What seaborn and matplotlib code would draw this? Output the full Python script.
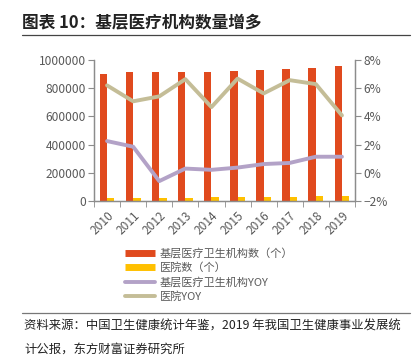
import matplotlib
matplotlib.use("Agg")
import matplotlib.pyplot as plt
import seaborn as sns
import pandas as pd
import numpy as np
from matplotlib.lines import Line2D
from matplotlib.ticker import FuncFormatter, MultipleLocator

sns.set_style("white")
plt.rcParams['font.family'] = ['Noto Sans CJK SC', 'DejaVu Sans']

years = ["2010", "2011", "2012", "2013", "2014", "2015", "2016", "2017", "2018", "2019"]
primary_inst = [901709, 918003, 912620, 915368, 917335, 920770, 926518, 933024, 943639, 954390]
hospitals = [20918, 21979, 23170, 24709, 25860, 27587, 29140, 31056, 33009, 34354]
primary_yoy = [2.25, 1.85, -0.59, 0.30, 0.21, 0.37, 0.62, 0.70, 1.14, 1.14]
hospital_yoy = [6.2, 5.07, 5.42, 6.64, 4.66, 6.68, 5.63, 6.57, 6.29, 4.07]

lab_bar1 = "基层医疗卫生机构数（个）"
lab_bar2 = "医院数（个）"
lab_line1 = "基层医疗卫生机构YOY"
lab_line2 = "医院YOY"

c_red = "#E04A1E"
c_yel = "#FFC000"
c_pur = "#B3A2C7"
c_tan = "#C4BD97"
c_axis = "#8C8C8C"
c_text = "#595959"

bars = pd.DataFrame({
    "year": years * 2,
    "value": primary_inst + hospitals,
    "series": [lab_bar1] * len(years) + [lab_bar2] * len(years),
})
pos = np.arange(len(years))
lines = pd.DataFrame({
    "x": np.concatenate([pos, pos]),
    "value": primary_yoy + hospital_yoy,
    "series": [lab_line1] * len(years) + [lab_line2] * len(years),
})

fig = plt.figure(figsize=(4.17, 3.59), dpi=100)
ax = fig.add_axes([94/417, 1-201/359, (355-94)/417, (201-60)/359])

sns.barplot(data=bars, x="year", y="value", hue="series", order=years,
            palette=[c_red, c_yel], width=0.57, gap=0, ax=ax, legend=False,
            saturation=1, edgecolor="none")
ax.set_ylim(0, 1000000)
ax.set_xlim(-0.5, len(years) - 0.5)
ax.yaxis.set_major_locator(MultipleLocator(200000))
ax.yaxis.set_major_formatter(FuncFormatter(lambda v, p: f"{int(v)}"))
ax.set_xlabel("")
ax.set_ylabel("")

ax2 = ax.twinx()
sns.lineplot(data=lines, x="x", y="value", hue="series",
             palette=[c_pur, c_tan], linewidth=2.8, ax=ax2, legend=False)
ax2.set_ylim(-2, 8)
ax2.set_xlim(-0.5, len(years) - 0.5)
ax2.yaxis.set_major_locator(MultipleLocator(2))
ax2.yaxis.set_major_formatter(FuncFormatter(lambda v, p: f"{int(round(v))}%".replace("-", "−")))
ax2.set_ylabel("")
ax2.set_xlabel("")
for l in ax2.get_lines():
    l.set_solid_capstyle("round")

for a in (ax, ax2):
    a.spines["top"].set_visible(False)
    for s in ("left", "right", "bottom"):
        a.spines[s].set_color(c_axis)
        a.spines[s].set_linewidth(0.9)

ax.tick_params(axis="y", direction="out", length=4, color=c_axis, labelcolor=c_text,
               labelsize=8.6, left=True, pad=2)
ax2.tick_params(axis="y", direction="out", length=4, color=c_axis, labelcolor=c_text,
                labelsize=8.6, right=True, pad=2)
ax.set_xticks(pos)
ax.set_xticklabels(years, rotation=45, ha="right", rotation_mode="anchor",
                   fontsize=8.6, color=c_text)
ax.tick_params(axis="x", length=0, pad=6)
ax.set_xticks(np.arange(-0.5, len(years)), minor=True)
ax.tick_params(axis="x", which="minor", length=4, color=c_axis, direction="out", bottom=True)
ax2.tick_params(axis="x", bottom=False, labelbottom=False)

handles = [
    Line2D([0], [0], color=c_red, lw=5, solid_capstyle="butt"),
    Line2D([0], [0], color=c_yel, lw=5, solid_capstyle="butt"),
    Line2D([0], [0], color=c_pur, lw=2.8, solid_capstyle="round"),
    Line2D([0], [0], color=c_tan, lw=2.8, solid_capstyle="round"),
]
fig.legend(handles, [lab_bar1, lab_bar2, lab_line1, lab_line2],
           loc="upper left", bbox_to_anchor=(125/417, 1-248/359),
           frameon=False, fontsize=8, handlelength=2.7, labelspacing=0.32,
           handletextpad=0.45, borderaxespad=0, borderpad=0, labelcolor=c_text)

fig.text(22/417, 1-22/359, "图表 10：基层医疗机构数量增多", fontsize=12,
         fontweight="bold", va="center", ha="left", color="#222222")
fig.add_artist(Line2D([22/417, 410/417], [1-35/359, 1-35/359], color="#444444", lw=0.9))
fig.add_artist(Line2D([22/417, 410/417], [1-313/359, 1-313/359], color="#777777", lw=0.9))
fig.text(24/417, 1-326/359, "资料来源：中国卫生健康统计年鉴，2019 年我国卫生健康事业发展统",
         fontsize=8.9, va="center", ha="left", color="#222222")
fig.text(24/417, 1-349/359, "计公报，东方财富证券研究所",
         fontsize=8.9, va="center", ha="left", color="#222222")

fig.savefig("out.png", dpi=100)
